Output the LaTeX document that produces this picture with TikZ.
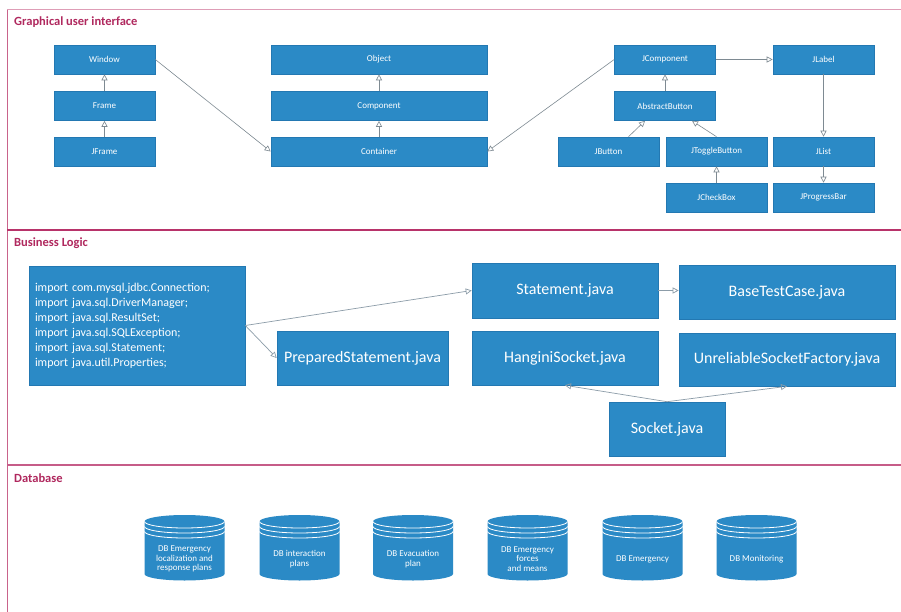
\documentclass[tikz,border=0pt]{standalone}
\usepackage{fontspec}
\setmainfont{Carlito}
\usetikzlibrary{arrows.meta}
\definecolor{boxblue}{HTML}{2B8AC6}
\definecolor{boxedge}{HTML}{2378B2}
\definecolor{panelline}{HTML}{B8336A}
\definecolor{toplinecol}{HTML}{DE9DB6}
\definecolor{leftlinecol}{HTML}{C9638B}
\definecolor{titlecol}{HTML}{B0285E}
\definecolor{conn}{HTML}{7E8A92}
\definecolor{conn2}{HTML}{8C9CA8}
\newcommand{\dbcyl}[3]{%
  \fill[boxblue] ({#1-40},521.5) -- ({#1-40},574)
    arc[start angle=180,end angle=0,x radius=40,y radius=6.5]
    -- ({#1+40},521.5)
    arc[start angle=0,end angle=-180,x radius=40,y radius=6.5] -- cycle;
  \foreach \dy in {0,5,10}
    \draw[white, line width=0.8pt] ({#1-40},{521.5+\dy})
      arc[start angle=180,end angle=0,x radius=40,y radius=6.5];
  \node[dbtext] (#2) at (#1,559) {#3};}
\begin{document}
\begin{tikzpicture}[x=1pt,y=-1pt,
  gbox/.style={draw=boxedge, fill=boxblue, text=white, line width=0.6pt,
    font=\fontsize{9}{10}\selectfont, minimum width=101pt, minimum height=29pt, inner sep=0pt},
  bbox/.style={draw=boxedge, fill=boxblue, text=white, line width=0.6pt,
    font=\fontsize{16}{18}\selectfont, minimum height=54pt, inner sep=0pt},
  dbtext/.style={text=white, align=center, font=\fontsize{9}{9.8}\selectfont, inner sep=0pt},
  paneltitle/.style={anchor=west, text=titlecol, font=\fontsize{12.5}{14}\selectfont\bfseries, inner sep=0pt},
  inh/.style={draw=conn, line width=0.6pt, -{Triangle[open, length=6pt, width=6pt]}},
  inh2/.style={draw=conn2, line width=0.7pt, -{Triangle[open, length=6pt, width=6pt]}}]
\useasboundingbox (0,0) rectangle (901,612);
\fill[white] (0,0) rectangle (901,612);
% panels
\draw[toplinecol, line width=1pt] (7,10) -- (901,10);
\draw[leftlinecol, line width=1.2pt] (7.5,10) -- (7.5,612);
\draw[panelline, line width=1.2pt] (7,230) -- (901,230);
\draw[panelline!80, line width=1.2pt] (7,465) -- (901,465);
\node[paneltitle] (t1) at (14,22) {Graphical user interface};
\node[paneltitle] (t2) at (14,243) {Business Logic};
\node[paneltitle] (t3) at (14,478) {Database};
% GUI
\node[gbox] (window) at (104.5,59.5) {Window};
\node[gbox] (frame) at (104.5,106) {Frame};
\node[gbox] (jframe) at (104.5,151.5) {JFrame};
\node[gbox, minimum width=216pt] (object) at (379,59.5) {Object};
\node[gbox, minimum width=216pt] (component) at (379,106) {Component};
\node[gbox, minimum width=216pt] (container) at (379,151.5) {Container};
\node[gbox] (jcomponent) at (665,59.5) {JComponent};
\node[gbox] (abstractbutton) at (665,106) {AbstractButton};
\node[gbox] (jlabel) at (823.5,59.5) {JLabel};
\node[gbox] (jbutton) at (608.5,151.5) {JButton};
\node[gbox] (jtoggle) at (716.5,151.5) {JToggleButton};
\node[gbox] (jlist) at (823.5,151.5) {JList};
\node[gbox] (jcheck) at (716.5,197.5) {JCheckBox};
\node[gbox] (jprogress) at (823.5,197.5) {JProgressBar};
\draw[inh] (frame.north) -- (window.south);
\draw[inh] (jframe.north) -- (frame.south);
\draw[inh] (component.north) -- (object.south);
\draw[inh] (container.north) -- (component.south);
\draw[inh] (window.east) -- (container.west);
\draw[inh] (jcomponent.west) -- (container.east);
\draw[inh] (abstractbutton.north) -- (jcomponent.south);
\draw[inh] ([xshift=20pt]jbutton.north) -- ([xshift=-20pt]abstractbutton.south);
\draw[inh] (jtoggle.north) -- ([xshift=27pt]abstractbutton.south);
\draw[inh] (jcheck.north) -- (jtoggle.south);
\draw[inh] (jcomponent.east) -- (jlabel.west);
\draw[inh] (jlabel.south) -- (jlist.north);
\draw[inh] (jlist.south) -- (jprogress.north);
% Business logic
\node[bbox, minimum width=216pt, minimum height=119pt, text width=204pt, align=left,
  font=\fontsize{12}{15}\selectfont] (imports) at (137,325.5)
  {import com.mysql.jdbc.Connection;\\
   import java.sql.DriverManager;\\
   import java.sql.ResultSet;\\
   import java.sql.SQLException;\\
   import java.sql.Statement;\\
   import java.util.Properties;};
\node[bbox, minimum width=171pt] (prepared) at (362.5,358) {PreparedStatement.java};
\node[bbox, minimum width=186pt, minimum height=55pt] (statement) at (565,290.5) {Statement.java};
\node[bbox, minimum width=216pt] (basetest) at (787,292) {BaseTestCase.java};
\node[bbox, minimum width=186pt] (hangini) at (565,358) {HanginiSocket.java};
\node[bbox, minimum width=216pt, minimum height=53pt] (unreliable) at (787,359.5) {UnreliableSocketFactory.java};
\node[bbox, minimum width=116pt] (socket) at (667,429) {Socket.java};
\draw[inh2] (imports.east) -- (statement.west);
\draw[inh2] (imports.east) -- (prepared.west);
\draw[inh2] (statement.east) -- (statement.east -| basetest.west);
\draw[inh2] (socket.north) -- (hangini.south);
\draw[inh2] (socket.north) -- (unreliable.south);
% Database
\dbcyl{184.5}{db1}{DB Emergency\\localization and\\response plans}
\dbcyl{299.5}{db2}{DB interaction\\plans}
\dbcyl{413}{db3}{DB Evacuation\\plan}
\dbcyl{527.5}{db4}{DB Emergency\\forces\\and means}
\dbcyl{642.5}{db5}{DB Emergency}
\dbcyl{756.5}{db6}{DB Monitoring}
\end{tikzpicture}
\end{document}
